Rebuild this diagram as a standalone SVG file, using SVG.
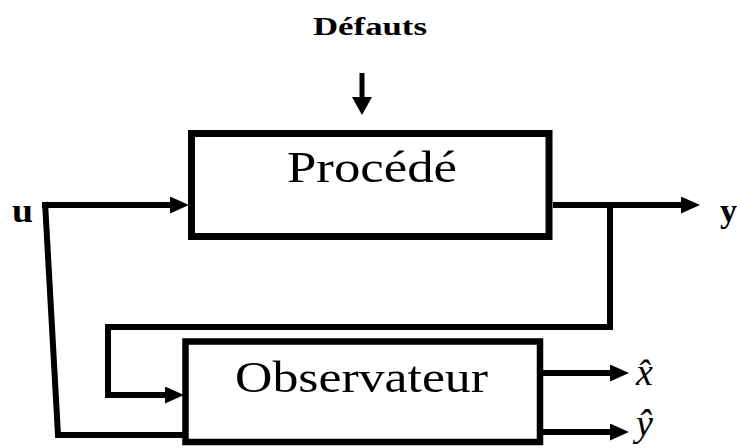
<svg xmlns="http://www.w3.org/2000/svg" width="737" height="448" viewBox="0 0 737 448">
  <defs>
    <marker id="head" markerUnits="userSpaceOnUse" markerWidth="19" markerHeight="17" refX="0" refY="8.5" orient="auto">
      <path d="M0,0 L19,8.5 L0,17 z" fill="#000"/>
    </marker>
    <style>
      .box { fill: #fff; stroke: #000; }
      .ln { fill: none; stroke: #000; stroke-width: 6; stroke-linejoin: miter; }
      .arr { marker-end: url(#head); }
      text { font-family: "Liberation Serif", serif; fill: #000; }
      .bold { font-weight: bold; }
      .ital { font-style: italic; }
    </style>
  </defs>
  <rect width="737" height="448" fill="#fff"/>

  <!-- disturbance input -->
  <g id="defauts">
    <text class="bold" x="313" y="35" font-size="26" textLength="114" lengthAdjust="spacingAndGlyphs">Défauts</text>
    <line x1="362" y1="73" x2="362" y2="98" stroke="#000" stroke-width="5"/>
    <polygon points="352,97 372,97 362,115" fill="#000"/>
  </g>

  <!-- plant block -->
  <g id="procede">
    <rect class="box" x="191.5" y="133.5" width="357.5" height="103" stroke-width="7"/>
    <text x="287" y="182" font-size="44" textLength="170" lengthAdjust="spacingAndGlyphs">Procédé</text>
  </g>

  <!-- observer block -->
  <g id="observateur">
    <rect class="box" x="185.5" y="341.5" width="354.5" height="100.5" stroke-width="6.5"/>
    <text x="235" y="392" font-size="45" textLength="253" lengthAdjust="spacingAndGlyphs">Observateur</text>
  </g>

  <!-- signal labels -->
  <g id="labels">
    <text class="bold" x="12" y="222" font-size="33" textLength="21" lengthAdjust="spacingAndGlyphs">u</text>
    <text class="bold" x="720" y="222" font-size="34">y</text>
    <text class="ital" x="636" y="385" font-size="38">x̂</text>
    <text class="ital" x="636" y="436" font-size="38">ŷ</text>
  </g>

  <!-- connectors -->
  <g id="connectors">
    <path class="ln arr" d="M42,205 L170,205"/>
    <path class="ln" d="M45,202 L58,435 L186,435"/>
    <path class="ln arr" d="M553,205 L681,205"/>
    <path class="ln arr" d="M610,205 L610,327 L108,327 L108,395 L165,395"/>
    <path class="ln arr" d="M543,373 L610,373"/>
    <path class="ln arr" d="M543,432 L610,432"/>
  </g>
</svg>
